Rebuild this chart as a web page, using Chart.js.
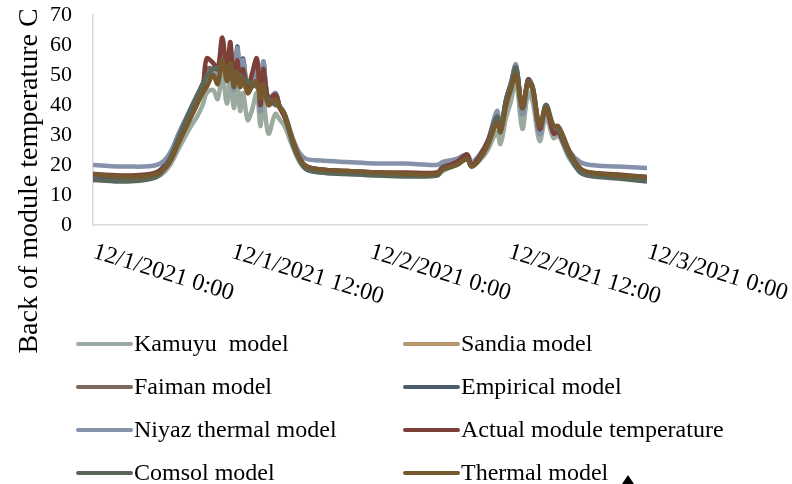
<!DOCTYPE html>
<html><head><meta charset="utf-8">
<script src="https://cdn.jsdelivr.net/npm/chart.js@4/dist/chart.umd.min.js"></script>
<style>html,body{margin:0;padding:0;background:#fff}#wrap{width:792px;height:484px}</style>
</head><body><div id="wrap"><canvas id="c" width="792" height="484"></canvas></div>
<script>
const hours = [0,3,5.5,6.5,7.5,8.5,9,9.5,9.85,10.4,10.8,11.2,11.6,11.9,12.2,12.5,12.75,13,13.4,13.75,14.2,14.5,14.75,15.2,15.8,16.2,16.6,17.3,17.9,18.5,19.7,22,
  24.6,27,29.8,30.3,31.5,32.4,32.8,33.5,34.2,35,35.3,35.8,36.2,36.65,37.2,37.7,38.1,38.7,39.25,39.9,40.3,40.7,41.3,42.2,43.1,45.5,48];
const tickHours = [0,12,24,36,48];
const tickLabels = ["12/1/2021 0:00","12/1/2021 12:00","12/2/2021 0:00","12/2/2021 12:00","12/3/2021 0:00"];
const yTitle = "Back of module temperature C";

const kamuyu = [16,15,16,19,26,33,36,40,44,45,42,50,40.5,49,39,47,38,44,35,38,44,33,42,30.5,37,35,33,26,21,18.5,17.5,17,
  16.5,16.5,16.5,18,20,22,19.5,21.5,25,31,27,36,41,48,32,44,41,28,36,29,30,27,22,18,16.5,15.8,15];
const sandia = [16.5,16,17,20.5,28.5,36.5,40.5,44.5,46.5,50,47.5,54.5,48,53.5,46,51,46,49,44,46,48,42,47,40,42,39,36.5,28,22,19.5,18.2,17.8,
  17.3,17,17,18.5,20.2,22.5,19.8,22.3,27,34.5,31.5,40.5,45.5,50.5,39,47.5,45,32.5,39,32.5,32.5,29.5,24,18.8,17.3,16.3,15.8];
const faiman = [16.5,16,17.5,21,29,37,41.5,45.5,52,52,50,58,50,57,47,54,47,51,45,48,52,41,50,41,43,39,36,28,22,19.5,18.3,17.8,
  17.4,17.2,17.3,19,20.8,23,20,22.8,27.5,35.5,31.5,41,46,51.5,38.5,48,45.5,31.5,39.5,31,31.5,28.5,23.5,18.6,17.3,16.5,15.8];
const empirical = [15,16,17.5,22,31,39,43,47,50,51,50,57,49,59,46,59.5,48,55.5,45,47,55,38,54.5,41.5,44,39,36.5,28,22,19.5,18.5,18,
  17.5,17,17.2,19.5,21,23.5,20.5,23,27.5,37,31,42,47,53,37,48.5,45,30.5,40,31.5,32,29,23.5,18.5,17,16.3,15.5];
const niyaz = [20,19.5,20,23,31,39,43,46.5,50,51,50,57,48,58.5,45,59,47,55,44,47,55,38,54.5,41.5,44,39,37,29,24,22,21.5,21,
  20.5,20.5,20,21,22,23.5,21,23.5,28,38,31,42,47,53.5,37,48.5,45,30.5,40,31.5,32.5,29.5,24.5,21,20,19.5,19];
const actual = [17,16.5,17.5,21,29,37,42,46,55.5,54,52,62.5,51.5,61,47,55,47,52,45,50,55.5,40,52,42,43.5,39,36,28,22,19.5,18.5,18,
  17.5,17.5,17.5,19,21,23.5,20,23,28,36,32,41,46,52,39,48.5,46,32,39,30.5,31,28,23,18.5,17.5,16.8,16];
const comsol = [15,14.5,16,21,30,39,43,47,49.5,52,52.5,53,52.5,52,51,50.5,50,49,48,47,46,44.5,43.5,42,40,39.5,37,27,21.5,18.5,17.5,17,
  16.5,16.2,16.5,18.5,20,22,19.5,22,27,36,33,42,47,52.5,39,48,46,33,40,33,32,29,23,17.5,16.3,15.5,14.5];
const thermal = [17,16,17,20,28,36,40,44,46,50,47,55,48,54,46,51,46,49,44,46,48,42,47,40,42,39,37,28.5,22.5,19.5,18.5,18,
  17.5,17,17,18.5,20,22,19.5,22,26.5,34,31,40,45,50,39,47.5,45,33,39,33,33,30,24.5,19,17.5,16.5,16];

const seriesNames = ["Kamuyu  model","Sandia model","Faiman model","Empirical model","Niyaz thermal model","Actual module temperature","Comsol model","Thermal model"];
const seriesValues = [kamuyu,sandia,faiman,empirical,niyaz,actual,comsol,thermal];
const seriesColors = ["#9aaa9e","#b8956c","#7e685c","#4e5c70","#8592aa","#7c4038","#5a685c","#76592f"];

const FONT = "'Liberation Serif','Times New Roman',serif";

const datasets = seriesNames.map((name,i)=>({
  label:name,
  data: hours.map((h,k)=>({x:h,y:seriesValues[i][k]})),
  borderColor: seriesColors[i],
  backgroundColor: seriesColors[i],
  borderWidth: 4.5,
  pointRadius: 0,
  tension: 0.35,
  fill:false,
  order: seriesNames.length - i
}));

const extras = {
  id:'extras',
  afterDraw(chart){
    const ctx = chart.ctx;
    const xs = chart.scales.x;
    ctx.save();
    ctx.fillStyle = '#000';
    // x tick labels, rotated
    ctx.font = "24px " + FONT;
    ctx.textAlign = 'left';
    ctx.textBaseline = 'top';
    tickHours.forEach((h,i)=>{
      const px = xs.getPixelForValue(h);
      ctx.save();
      ctx.translate(px+4, 240);
      ctx.rotate(17*Math.PI/180);
      ctx.fillText(tickLabels[i],0,0);
      ctx.restore();
    });
    // y title
    ctx.save();
    ctx.font = "28px " + FONT;
    ctx.translate(30, 181);
    ctx.rotate(-Math.PI/2);
    ctx.textAlign = 'center';
    ctx.textBaseline = 'middle';
    ctx.fillText(yTitle,0,0);
    ctx.restore();
    // legend
    const colX = [78, 405];
    const rowY = [344, 387, 430, 473];
    ctx.font = "24px " + FONT;
    ctx.textAlign = 'left';
    ctx.textBaseline = 'middle';
    seriesNames.forEach((name,i)=>{
      const cx = colX[i%2], cy = rowY[Math.floor(i/2)];
      ctx.strokeStyle = seriesColors[i];
      ctx.lineWidth = 4;
      ctx.lineCap = 'round';
      ctx.beginPath();
      ctx.moveTo(cx, cy);
      ctx.lineTo(cx+53, cy);
      ctx.stroke();
      ctx.fillStyle = '#000';
      ctx.fillText(name, cx+56, cy+1);
    });
    // small marker at bottom
    ctx.fillStyle = '#000';
    ctx.beginPath();
    ctx.moveTo(628,475); ctx.lineTo(634,484); ctx.lineTo(622,484); ctx.closePath();
    ctx.fill();
    ctx.restore();
  }
};

new Chart(document.getElementById('c'),{
  type:'line',
  data:{datasets},
  options:{
    responsive:false,
    devicePixelRatio:1,
    animation:false,
    layout:{padding:{top:15,right:145,bottom:259,left:0}},
    plugins:{legend:{display:false},tooltip:{enabled:false}},
    scales:{
      x:{type:'linear',min:0,max:48,
        ticks:{display:false,stepSize:12},
        grid:{display:true,drawOnChartArea:false,drawTicks:false},
        border:{color:'#d9d9d9',width:1.5},
        afterFit(s){s.height=0;s.paddingLeft=0;s.paddingRight=0;}
      },
      y:{min:0,max:70,
        ticks:{stepSize:10,color:'#000',padding:21,font:{family:FONT,size:22}},
        grid:{display:true,drawOnChartArea:false,drawTicks:false},
        border:{color:'#d9d9d9',width:1.5},
        afterFit(s){s.width=93;s.paddingTop=0;s.paddingBottom=0;}
      }
    }
  },
  plugins:[extras]
});
</script></body></html>
